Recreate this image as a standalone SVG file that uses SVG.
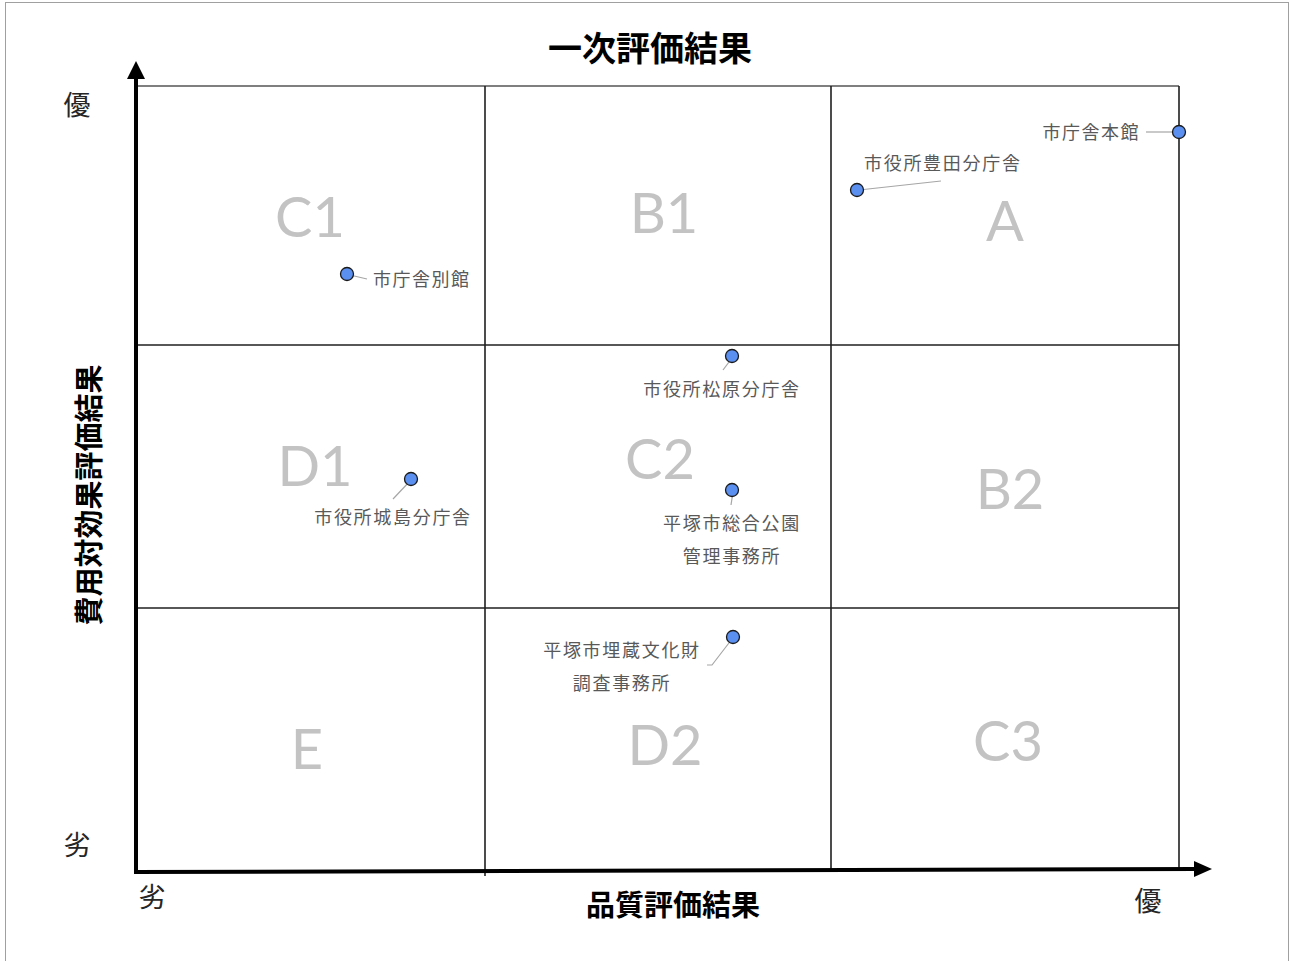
<svg xmlns="http://www.w3.org/2000/svg" width="1290" height="961" viewBox="0 0 1290 961">
<defs>
<style>
.cj{font-family:"Noto Sans CJK JP","Noto Sans CJK SC",sans-serif;}
.axl{font-size:27px;fill:#262626;}
.ttl{font-size:34px;font-weight:bold;fill:#000;}
.sub{font-size:29px;font-weight:bold;fill:#000;}
.grade{font-family:Lato,"Open Sans",sans-serif;font-size:56px;fill:#c3c3c3;text-anchor:middle;}
.lbl{font-size:18px;fill:#595959;}
.grid{stroke:#1f1f1f;stroke-width:1.6;fill:none;}
.lead{stroke:#a6a6a6;stroke-width:1.2;fill:none;}
.dot{fill:#5b8ff0;stroke:#1a1a1a;stroke-width:1.3;}
</style>
</defs>
<rect x="0" y="0" width="1290" height="961" fill="#ffffff"/>
<rect x="5.5" y="2.5" width="1283" height="970" fill="none" stroke="#a0a0a0" stroke-width="1"/>
<g id="grid">
<line x1="136" y1="86" x2="1179" y2="86" stroke="#7f7f7f" stroke-width="2"/>
<line class="grid" x1="1179" y1="86" x2="1179" y2="870"/>
<line class="grid" x1="485" y1="86" x2="485" y2="876"/>
<line class="grid" x1="831" y1="86" x2="831" y2="870"/>
<line class="grid" x1="136" y1="345" x2="1179" y2="345"/>
<line class="grid" x1="136" y1="608" x2="1179" y2="608"/>
</g>
<g id="axes">
<line x1="136" y1="874" x2="136" y2="76" stroke="#000" stroke-width="4"/>
<polygon points="127,79 136,61 145,79" fill="#000"/>
<line x1="134" y1="872" x2="1196" y2="869" stroke="#000" stroke-width="4"/>
<polygon points="1194,861 1212,869 1194,877" fill="#000"/>
</g>
<g id="titles">
<text class="cj ttl" x="650" y="61" text-anchor="middle">一次評価結果</text>
<text class="cj sub" x="673" y="916" text-anchor="middle">品質評価結果</text>
<text class="cj sub" transform="translate(100,495) rotate(-90)" text-anchor="middle">費用対効果評価結果</text>
<text class="cj axl" x="77" y="115" text-anchor="middle">優</text>
<text class="cj axl" x="77" y="855" text-anchor="middle">劣</text>
<text class="cj axl" x="152" y="907" text-anchor="middle">劣</text>
<text class="cj axl" x="1148" y="911" text-anchor="middle">優</text>
</g>
<g id="grades">
<text class="grade" x="310" y="237">C1</text>
<text class="grade" x="664" y="233">B1</text>
<text class="grade" x="1005" y="241">A</text>
<text class="grade" x="315" y="486">D1</text>
<text class="grade" x="660" y="479">C2</text>
<text class="grade" x="1010" y="509">B2</text>
<text class="grade" x="307" y="769">E</text>
<text class="grade" x="665" y="765">D2</text>
<text class="grade" x="1008" y="761">C3</text>
</g>
<g id="connectors">
<line class="lead" x1="1146" y1="132" x2="1173" y2="132"/>
<line class="lead" x1="859" y1="190" x2="941" y2="181"/>
<line class="lead" x1="350" y1="275" x2="367" y2="279"/>
<line class="lead" x1="732" y1="358" x2="723" y2="370"/>
<line class="lead" x1="733" y1="492" x2="731" y2="505"/>
<line class="lead" x1="410" y1="481" x2="393" y2="499"/>
<polyline class="lead" points="732,639 712,665 707,665"/>
</g>
<g id="node-honkan">
<circle class="dot" cx="1179" cy="132" r="6.5"/>
<text class="cj lbl" x="1140" y="139" text-anchor="end" letter-spacing="1.5">市庁舎本館</text>
</g>
<g id="node-toyoda">
<circle class="dot" cx="857" cy="190" r="6.5"/>
<text class="cj lbl" x="864" y="170" letter-spacing="1.7">市役所豊田分庁舎</text>
</g>
<g id="node-bekkan">
<circle class="dot" cx="347" cy="274" r="6.5"/>
<text class="cj lbl" x="373" y="286" letter-spacing="1.5">市庁舎別館</text>
</g>
<g id="node-matsubara">
<circle class="dot" cx="732" cy="356" r="6.5"/>
<text class="cj lbl" x="722" y="396" text-anchor="middle" letter-spacing="1.7">市役所松原分庁舎</text>
</g>
<g id="node-sogokoen">
<circle class="dot" cx="732" cy="490" r="6.5"/>
<text class="cj lbl" x="732" y="530" text-anchor="middle" letter-spacing="1.7">平塚市総合公園</text>
<text class="cj lbl" x="732" y="563" text-anchor="middle" letter-spacing="1.7">管理事務所</text>
</g>
<g id="node-jojima">
<circle class="dot" cx="411" cy="479" r="6.5"/>
<text class="cj lbl" x="393" y="524" text-anchor="middle" letter-spacing="1.7">市役所城島分庁舎</text>
</g>
<g id="node-maizo">
<circle class="dot" cx="733" cy="637" r="6.5"/>
<text class="cj lbl" x="622" y="657" text-anchor="middle" letter-spacing="1.7">平塚市埋蔵文化財</text>
<text class="cj lbl" x="622" y="690" text-anchor="middle" letter-spacing="1.7">調査事務所</text>
</g>
</svg>
